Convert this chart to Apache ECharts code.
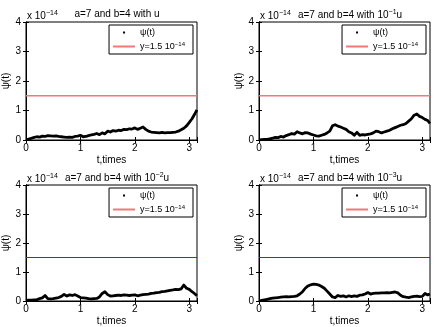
<!DOCTYPE html>
<html>
<head>
<meta charset="utf-8">
<script src="https://cdn.jsdelivr.net/npm/echarts@6/dist/echarts.min.js"></script>
<style>
  html, body { margin: 0; padding: 0; background: #fff; }
  #main { width: 436px; height: 327px; }
</style>
</head>
<body>
<div id="main"></div>
<script>
  // time samples (t, times)
  var tVals = [0, 0.05, 0.1, 0.15, 0.2, 0.25, 0.3, 0.35, 0.4, 0.45, 0.5, 0.55, 0.6, 0.65, 0.7, 0.75, 0.8, 0.85, 0.9, 0.95,
    1.0, 1.05, 1.1, 1.15, 1.2, 1.25, 1.3, 1.35, 1.4, 1.45, 1.5, 1.55, 1.6, 1.65, 1.7, 1.75, 1.8, 1.85, 1.9, 1.95,
    2.0, 2.05, 2.1, 2.15, 2.2, 2.25, 2.3, 2.35, 2.4, 2.45, 2.5, 2.55, 2.6, 2.65, 2.7, 2.75, 2.8, 2.85, 2.9, 2.95,
    3.0, 3.05, 3.1, 3.14];

  // psi(t) in units of 1e-14
  var psiU = [0.00, 0.03, 0.06, 0.09, 0.11, 0.10, 0.13, 0.12, 0.15, 0.14, 0.13, 0.14, 0.12, 0.11, 0.10, 0.09, 0.10, 0.09, 0.12, 0.13,
    0.16, 0.11, 0.12, 0.15, 0.17, 0.19, 0.22, 0.18, 0.24, 0.21, 0.30, 0.27, 0.32, 0.30, 0.33, 0.32, 0.36, 0.35, 0.38, 0.37,
    0.41, 0.36, 0.40, 0.44, 0.36, 0.30, 0.27, 0.26, 0.25, 0.24, 0.26, 0.24, 0.25, 0.25, 0.26, 0.27, 0.30, 0.35, 0.40, 0.48,
    0.60, 0.72, 0.88, 1.02];
  var psiU1 = [0.00, 0.01, 0.02, 0.02, 0.04, 0.06, 0.09, 0.08, 0.12, 0.10, 0.15, 0.18, 0.22, 0.20, 0.28, 0.24, 0.21, 0.25, 0.24, 0.20,
    0.17, 0.14, 0.13, 0.16, 0.19, 0.24, 0.30, 0.48, 0.52, 0.47, 0.44, 0.40, 0.36, 0.28, 0.24, 0.16, 0.26, 0.16, 0.18, 0.17,
    0.19, 0.21, 0.24, 0.30, 0.28, 0.24, 0.27, 0.30, 0.33, 0.38, 0.42, 0.46, 0.50, 0.52, 0.56, 0.64, 0.72, 0.84, 0.88, 0.80,
    0.76, 0.70, 0.66, 0.56];
  var psiU2 = [0.02, 0.03, 0.03, 0.04, 0.05, 0.08, 0.11, 0.19, 0.08, 0.07, 0.08, 0.10, 0.12, 0.16, 0.23, 0.17, 0.21, 0.19, 0.22, 0.17,
    0.12, 0.11, 0.10, 0.08, 0.07, 0.08, 0.09, 0.14, 0.26, 0.32, 0.22, 0.17, 0.18, 0.19, 0.20, 0.19, 0.21, 0.20, 0.19, 0.20,
    0.21, 0.18, 0.20, 0.22, 0.23, 0.24, 0.26, 0.27, 0.29, 0.30, 0.32, 0.33, 0.35, 0.37, 0.38, 0.40, 0.39, 0.42, 0.55, 0.44,
    0.40, 0.32, 0.25, 0.18];
  var psiU3 = [0.00, 0.02, 0.04, 0.06, 0.08, 0.10, 0.11, 0.12, 0.13, 0.14, 0.15, 0.14, 0.15, 0.16, 0.18, 0.24, 0.32, 0.44, 0.52, 0.56,
    0.58, 0.57, 0.55, 0.50, 0.44, 0.34, 0.24, 0.14, 0.12, 0.19, 0.16, 0.18, 0.14, 0.18, 0.15, 0.18, 0.16, 0.20, 0.21, 0.24,
    0.29, 0.24, 0.26, 0.27, 0.27, 0.28, 0.28, 0.29, 0.28, 0.30, 0.31, 0.28, 0.20, 0.15, 0.13, 0.12, 0.14, 0.16, 0.17, 0.15,
    0.16, 0.26, 0.21, 0.24];

  var refLevel = 1.5;
  var xTicks = [0, 1, 2, 3];
  var yTicks = [0, 1, 2, 3, 4];
  var tMax = 3.1416;

  var panels = [
    { data: psiU,  exp: '',   left: 26,  top: 22,  height: 118, refColor: '#f07878', refWidth: 1.5 },
    { data: psiU1, exp: '−1', left: 259, top: 22,  height: 118, refColor: '#f07878', refWidth: 1.5 },
    { data: psiU2, exp: '−2', left: 26,  top: 185, height: 119, refColor: '#e00000', refWidth: 1.2 },
    { data: psiU3, exp: '−3', left: 259, top: 185, height: 119, refColor: '#e00000', refWidth: 1.2 }
  ];

  var font = 'Liberation Sans, Arial, sans-serif';
  var rich = {
    a: { fontSize: 10, color: '#000', fontFamily: font, fontWeight: 'normal' },
    s: { fontSize: 7, color: '#000', fontFamily: font, fontWeight: 'normal', verticalAlign: 'top', padding: [0, 0, 6, 0] }
  };

  var grid = [], xAxis = [], yAxis = [], series = [], title = [], legend = [];

  panels.forEach(function (p, i) {
    var w = 171;
    grid.push({ left: p.left, top: p.top, width: w, height: p.height, show: true, borderColor: '#000', borderWidth: 1 });

    xAxis.push({
      type: 'value', gridIndex: i, min: 0, max: tMax, interval: 1,
      name: 't,times', nameLocation: 'middle', nameGap: 15,
      nameTextStyle: { fontSize: 10, color: '#000', fontFamily: font },
      axisLine: { lineStyle: { color: '#000' } },
      axisTick: { inside: true, length: 3, lineStyle: { color: '#000' } },
      axisLabel: { fontSize: 10, color: '#000', fontFamily: font, margin: 3,
        formatter: function (v) { return xTicks.indexOf(v) >= 0 ? String(v) : ''; } },
      splitLine: { show: false }
    });
    xAxis.push({
      type: 'value', gridIndex: i, min: 0, max: tMax, interval: 1, position: 'top',
      axisLine: { lineStyle: { color: '#000' } },
      axisTick: { inside: true, length: 3, lineStyle: { color: '#000' } },
      axisLabel: { show: false }, splitLine: { show: false }
    });
    yAxis.push({
      type: 'value', gridIndex: i, min: 0, max: 4, interval: 1,
      name: 'ψ(t)', nameLocation: 'middle', nameGap: 12,
      nameTextStyle: { fontSize: 10, color: '#000', fontFamily: font },
      axisLine: { show: true, lineStyle: { color: '#000' } },
      axisTick: { show: true, inside: true, length: 3, lineStyle: { color: '#000' } },
      axisLabel: { fontSize: 10, color: '#000', fontFamily: font, margin: 5,
        formatter: function (v) { return yTicks.indexOf(v) >= 0 ? String(v) : ''; } },
      splitLine: { show: false }
    });
    yAxis.push({
      type: 'value', gridIndex: i, min: 0, max: 4, interval: 1, position: 'right',
      axisLine: { show: true, lineStyle: { color: '#000' } },
      axisTick: { show: true, inside: true, length: 3, lineStyle: { color: '#000' } },
      axisLabel: { show: false }, splitLine: { show: false }
    });

    var pts = tVals.map(function (t, k) { return [t, p.data[k]]; });
    series.push({
      name: 'ψ(t)', type: 'line', xAxisIndex: 2 * i, yAxisIndex: 2 * i,
      data: pts, showSymbol: false, symbol: 'none',
      lineStyle: { color: '#000', width: 2.8, join: 'round' },
      itemStyle: { color: '#000' }, animation: false
    });
    series.push({
      name: 'ref', type: 'line', xAxisIndex: 2 * i, yAxisIndex: 2 * i,
      data: [[0, refLevel], [tMax, refLevel]], showSymbol: false, symbol: 'none',
      lineStyle: { color: p.refColor, width: p.refWidth },
      itemStyle: { color: p.refColor }, animation: false
    });

    var titleText = p.exp === ''
      ? '{a|a=7 and b=4 with u}'
      : '{a|a=7 and b=4 with 10}{s|' + p.exp + '}{a|u}';
    title.push({
      text: titleText, left: p.left + 86, top: p.top - 18, textAlign: 'center',
      textStyle: { rich: rich }
    });
    title.push({
      text: '{a|x 10}{s|−14}', left: p.left - 4, top: p.top - 17,
      textStyle: { rich: rich }
    });

    legend.push({
      data: [
        { name: 'ψ(t)', icon: 'path://M0,0h1v1h-1z' },
        { name: 'ref', icon: 'rect' }
      ],
      orient: 'vertical',
      right: 436 - (p.left + w) + 4, top: p.top + 3,
      itemWidth: 22, itemHeight: 2, itemGap: 4,
      padding: [3, 8, 3, 4],
      borderColor: '#000', borderWidth: 1, backgroundColor: '#fff',
      selectedMode: false,
      formatter: function (name) {
        return name === 'ref' ? '{a|y=1.5 10}{s|−14}' : '{a|ψ(t)}';
      },
      textStyle: { rich: {
        a: { fontSize: 9, color: '#000', fontFamily: font },
        s: { fontSize: 6, color: '#000', fontFamily: font, verticalAlign: 'top', padding: [0, 0, 5, 0] }
      } }
    });
  });

  var myChart = echarts.init(document.getElementById('main'));
  myChart.setOption({
    animation: false,
    backgroundColor: '#fff',
    title: title,
    legend: legend,
    grid: grid,
    xAxis: xAxis,
    yAxis: yAxis,
    series: series
  });
</script>
</body>
</html>
